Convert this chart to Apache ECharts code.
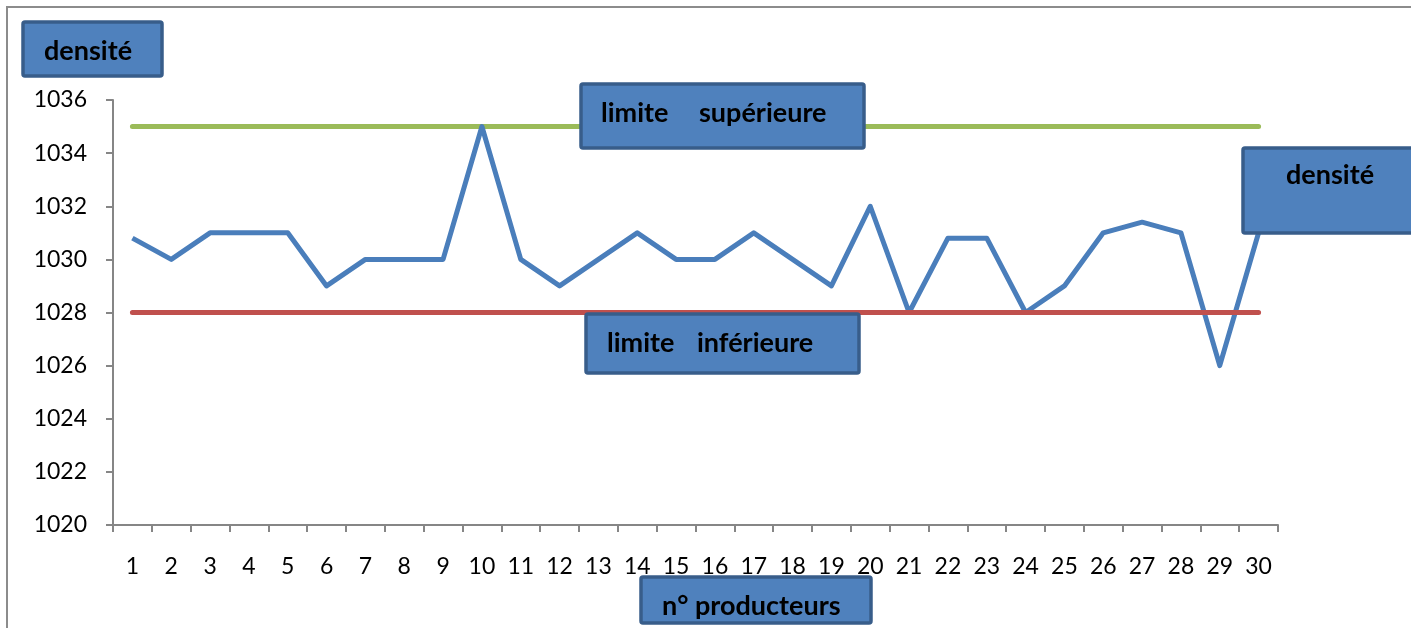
<!DOCTYPE html>
<html>
<head>
<meta charset="utf-8">
<script src="https://cdn.jsdelivr.net/npm/echarts@6/dist/echarts.min.js"></script>
<style>
  html, body { margin: 0; padding: 0; background: #fff; }
  #chart { width: 1411px; height: 628px; }
</style>
</head>
<body>
<div id="chart"></div>
<script>
const categories = ['1','2','3','4','5','6','7','8','9','10','11','12','13','14','15','16','17','18','19','20','21','22','23','24','25','26','27','28','29','30'];
const densite = [1030.8, 1030, 1031, 1031, 1031, 1029, 1030, 1030, 1030, 1035, 1030, 1029, 1030, 1031, 1030, 1030, 1031, 1030, 1029, 1032, 1028, 1030.8, 1030.8, 1028, 1029, 1031, 1031.4, 1031, 1026, 1031];
const upperLimit = 1035;
const lowerLimit = 1028;
const yMin = 1020, yMax = 1036, yStep = 2;

const FONT = 'Lato';
const BOX_FILL = '#4f81bd';
const BOX_STROKE = '#385d8a';

function box(x, y, w, h, words, ty) {
  const els = [
    { type: 'rect', shape: { x: x, y: y, width: w, height: h, r: 2 }, style: { fill: BOX_FILL, stroke: BOX_STROKE, lineWidth: 3.5 }, z: 100 }
  ];
  words.forEach(([t, tx]) => {
    els.push({ type: 'text', x: tx, y: ty, style: { text: t, fontFamily: FONT, fontSize: 27, fontWeight: 'bold', fill: '#000', align: 'left', verticalAlign: 'middle' }, z: 101 });
  });
  return els;
}

const chart = echarts.init(document.getElementById('chart'));
chart.setOption({
  animation: false,
  backgroundColor: '#fff',
  grid: { left: 113, right: 133, top: 100, bottom: 103 },
  xAxis: {
    type: 'category',
    data: categories,
    boundaryGap: true,
    axisLine: { lineStyle: { color: '#868686', width: 2 } },
    axisTick: { show: true, length: 7, inside: false, lineStyle: { color: '#868686', width: 2 } },
    axisLabel: { color: '#000', fontFamily: FONT, fontSize: 23, margin: 30, interval: 0 },
    splitLine: { show: false }
  },
  yAxis: {
    type: 'value',
    min: yMin, max: yMax, interval: yStep,
    axisLine: { show: true, lineStyle: { color: '#868686', width: 2 } },
    axisTick: { show: true, length: 7, lineStyle: { color: '#868686', width: 2 } },
    axisLabel: { color: '#000', fontFamily: FONT, fontSize: 23, margin: 26, formatter: v => String(v) },
    splitLine: { show: false }
  },
  series: [
    {
      name: 'densité', type: 'line', data: densite, symbol: 'none',
      lineStyle: { color: '#4a7ebb', width: 5, join: 'round' }, z: 3
    },
    {
      name: 'limite supérieure', type: 'line', data: categories.map(() => upperLimit), symbol: 'none',
      lineStyle: { color: '#9bbb59', width: 5, cap: 'round' }, z: 2
    },
    {
      name: 'limite inférieure', type: 'line', data: categories.map(() => lowerLimit), symbol: 'none',
      lineStyle: { color: '#c0504d', width: 5, cap: 'round' }, z: 4
    }
  ],
  graphic: [
    { type: 'rect', shape: { x: 7, y: 7, width: 1430, height: 660 }, style: { fill: null, stroke: '#8c8c8c', lineWidth: 2 }, z: 0, silent: true }
  ]
    .concat(box(23, 22, 139, 54, [['densité', 44]], 51))
    .concat(box(581, 84, 283, 64, [['limite', 601], ['supérieure', 699]], 113))
    .concat(box(586, 314, 273, 59, [['limite', 607], ['inférieure', 697]], 343))
    .concat(box(1243, 148, 175, 85, [['densité', 1286]], 175))
    .concat(box(641, 577, 230, 46, [['n° producteurs', 662]], 606))
});
</script>
</body>
</html>
